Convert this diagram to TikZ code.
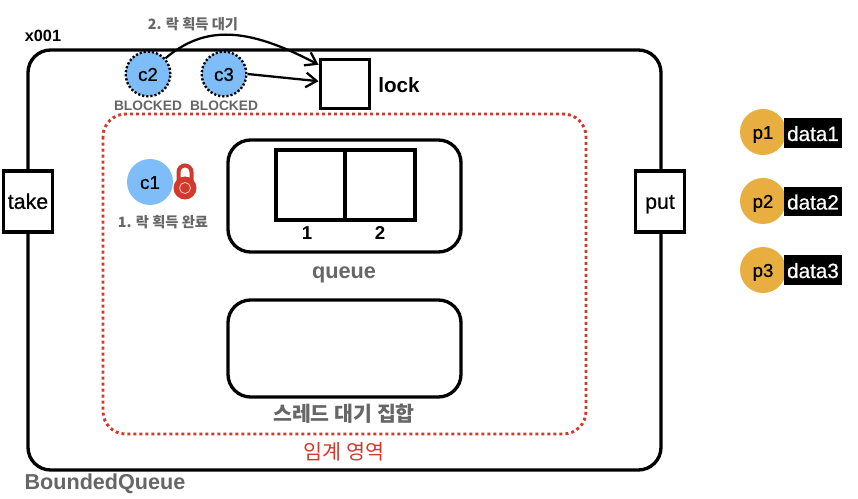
\documentclass[tikz,border=0pt]{standalone}
\usepackage{fontspec}
\setmainfont{Liberation Sans}
\newfontfamily\midfont[FakeBold=0.6]{Liberation Sans}
\newfontfamily\krfont{Noto Sans CJK KR}
\usetikzlibrary{arrows.meta}

\definecolor{threadblue}{HTML}{7FBDF8}
\definecolor{producer}{HTML}{E8AE3F}
\definecolor{lockred}{HTML}{D0392B}
\definecolor{labelgray}{HTML}{666666}

\tikzset{
  thick box/.style={draw=black, line width=2.7pt, fill=white, inner sep=0pt},
  thread/.style={circle, fill=threadblue, minimum size=34.5pt, inner sep=0pt, text height=10.4pt, text depth=0pt, font=\fontsize{14}{16}\midfont},
  waiting/.style={thread, draw=black, dash pattern=on 1.6pt off 1.5pt, line width=1.8pt, minimum size=33.5pt},
  producer/.style={circle, fill=producer, minimum size=34.5pt, inner sep=0pt, text height=10.4pt, text depth=0pt, font=\fontsize{14}{16}\midfont},
  data/.style={fill=black, text=white, minimum width=43.5pt, minimum height=22pt, inner sep=0pt, text height=12pt, text depth=0pt, font=\fontsize{15.5}{17}\midfont},
  method/.style={thick box, minimum width=37pt, minimum height=46pt, text height=11pt, text depth=0pt, font=\fontsize{16}{18}\midfont},
  note/.style={text=labelgray, inner sep=0pt, font=\fontsize{10.7}{12}\krfont\bfseries},
  waitarrow/.style={-{Straight Barb[length=8pt,width=11pt]}, line width=1.7pt}
}

\begin{document}
\begin{tikzpicture}[x=0.75pt,y=-0.75pt]
\useasboundingbox (0,0) rectangle (858,499);

\draw[line width=2.5pt, rounded corners=17pt] (28,50) rectangle (661,470);
\draw[lockred, line width=2.2pt, dash pattern=on 2.2pt off 2.3pt, rounded corners=17pt] (103,114) rectangle (586,434);

\draw[line width=2.5pt, rounded corners=17pt] (228,140) rectangle (461,252);
\draw[line width=2.5pt, rounded corners=17pt] (228,300) rectangle (461,397);
\draw[line width=2.4pt] (276,150) rectangle ++(69,70) rectangle ++(70,-70);

\node[method] (take) at (28,201.5) {take};
\node[method] (put) at (660,201.5) {put};
\node[thick box, minimum width=37pt, minimum height=37pt] (lock) at (345,84) {};

\node[waiting] (c2) at (148,74) {c2};
\node[waiting] (c3) at (224,74) {c3};
\node[thread] (c1) at (150,182) {c1};

% lock icon
\draw[lockred, line width=3pt] (178.5,188) -- (178.5,172) arc (180:360:6.5) -- (191.5,188);
\fill[lockred] (185,188) circle (11.5);
\draw[white!75!lockred, line width=0.6pt] (185,188) circle (5.5);

\draw[waitarrow] (c2.42) .. controls (205,25) and (247,27) .. (lock.144);
\draw[waitarrow] (c3.east) -- (lock.174);

\node[producer] (p1) at (763,132) {p1};
\node[producer] (p2) at (763,201) {p2};
\node[producer] (p3) at (763,270) {p3};
\node[data] (data1) at (813,133) {data1};
\node[data] (data2) at (813,201.5) {data2};
\node[data] (data3) at (813,270) {data3};

\node[inner sep=0pt, font=\fontsize{12.2}{14}\selectfont\bfseries] (x001) at (43,36) {x001};
\node[inner sep=0pt, font=\fontsize{15.5}{17}\selectfont\bfseries] (locklabel) at (399,85) {lock};
\node[note] (waitlabel) at (193,24) {2. 락 획득 대기};
\node[note] (donelabel) at (163,222) {1. 락 획득 완료};
\node[note, font=\fontsize{10.3}{12}\selectfont\bfseries] (blocked2) at (148,106) {BLOCKED};
\node[note, font=\fontsize{10.3}{12}\selectfont\bfseries] (blocked3) at (224,106) {BLOCKED};
\node[inner sep=0pt, font=\fontsize{14}{16}\selectfont\bfseries] (one) at (307,233) {1};
\node[inner sep=0pt, font=\fontsize{14}{16}\selectfont\bfseries] (two) at (380,233) {2};
\node[note, font=\fontsize{16.3}{18}\selectfont\bfseries] (queuelabel) at (344,275) {queue};
\node[note, font=\fontsize{15.4}{18}\krfont\bfseries] (waitset) at (344,414) {스레드 대기 집합};
\node[inner sep=0pt, text=lockred, font=\fontsize{15.5}{18}\krfont] (critical) at (344,452) {임계 영역};
\node[note, font=\fontsize{16.2}{18}\selectfont\bfseries] (bounded) at (105,484) {BoundedQueue};

\end{tikzpicture}
\end{document}
